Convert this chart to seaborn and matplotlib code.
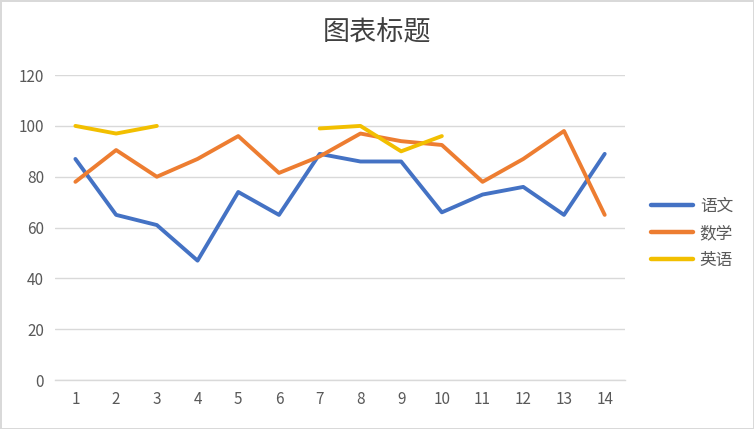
"""
Score line chart: 语文 / 数学 / 英语 over 14 exams
"""
import numpy as np
import pandas as pd
import matplotlib
matplotlib.use("Agg")
import matplotlib.pyplot as plt
import seaborn as sns

# Data
exams = list(range(1, 15))
chinese = [87, 65, 61, 47, 74, 65, 89, 86, 86, 66, 73, 76, 65, 89]
math = [78, 90.5, 80, 87, 96, 81.5, 88, 97, 94, 92.5, 78, 87, 98, 65]
english = [100, 97, 100, np.nan, np.nan, np.nan, 99, 100, 90, 96,
           np.nan, np.nan, np.nan, np.nan]
subjects = ["语文", "数学", "英语"]
y_ticks = [0, 20, 40, 60, 80, 100, 120]

colors = {"语文": "#4472C4", "数学": "#ED7D31", "英语": "#F2BF00"}

# Long-form table, each unbroken run gets its own segment id
rows = []
for name, values in zip(subjects, [chinese, math, english]):
    seg = 0
    prev_nan = False
    for x, v in zip(exams, values):
        if np.isnan(v):
            prev_nan = True
            continue
        if prev_nan:
            seg += 1
            prev_nan = False
        rows.append({"exam": x, "score": v, "subject": name,
                     "segment": f"{name}_{seg}"})
df = pd.DataFrame(rows)

sns.set_theme(style="white")
plt.rcParams["font.family"] = ["Noto Sans CJK SC", "DejaVu Sans"]

fig = plt.figure(figsize=(7.54, 4.29), dpi=100)
fig.patch.set_edgecolor("#d9d9d9")
fig.patch.set_linewidth(2)
ax = fig.add_axes([0.073, 0.114, 0.756, 0.711])

sns.lineplot(data=df, x="exam", y="score", hue="subject", units="segment",
             estimator=None, hue_order=subjects, palette=colors,
             linewidth=2.8, sort=True, ax=ax)

ax.set_xlim(0.5, 14.5)
ax.set_ylim(0, 120)
ax.set_xticks(exams)
ax.set_yticks(y_ticks)
ax.yaxis.grid(True, color="#d9d9d9", linewidth=1)
ax.set_axisbelow(True)
for side in ["top", "right", "left"]:
    ax.spines[side].set_visible(False)
ax.spines["bottom"].set_color("#d9d9d9")
ax.spines["bottom"].set_linewidth(1)
ax.tick_params(axis="both", length=0, labelsize=11, colors="#595959", pad=8)
ax.set_xlabel("")
ax.set_ylabel("")

fig.text(0.5, 0.922, "图表标题", ha="center", va="center",
         fontsize=19.5, color="#404040")

leg = ax.legend(loc="center left", bbox_to_anchor=(1.02, 0.48), frameon=False,
                fontsize=12, handlelength=2.5, labelspacing=0.6,
                handletextpad=0.4)
for line in leg.get_lines():
    line.set_linewidth(3.2)
for t in leg.get_texts():
    t.set_color("#595959")

fig.savefig("out.png", dpi=100)
